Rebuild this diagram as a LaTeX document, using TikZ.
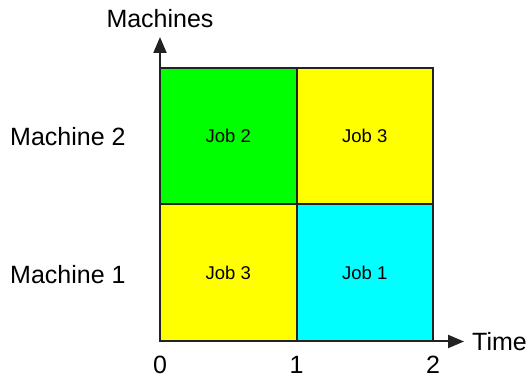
\documentclass[tikz,border=0pt]{standalone}
\usepackage{fontspec}
\setmainfont{Liberation Sans}
\usetikzlibrary{arrows.meta}
\definecolor{jobgreen}{RGB}{0,255,0}
\definecolor{jobyellow}{RGB}{255,255,0}
\definecolor{jobcyan}{RGB}{0,255,255}
\definecolor{edge}{RGB}{34,34,34}
\tikzset{
  cell/.style={draw=edge, line width=2pt, minimum width=136.5pt, minimum height=136.5pt,
    inner sep=0pt, font=\fontsize{18.5}{22}\selectfont},
  axis/.style={draw=edge, line width=2pt, -{Triangle[length=16pt,width=13pt]}},
  biglabel/.style={font=\fontsize{25}{30}\selectfont, inner sep=0pt}
}
\begin{document}
\begin{tikzpicture}[x=1pt,y=-1pt]
  \useasboundingbox (0,0) rectangle (528,379);
  % schedule cells
  \node[cell, fill=jobyellow] (j3a) at (228.25,272.75) {Job 3};
  \node[cell, fill=jobcyan]   (j1)  at (364.75,272.75) {Job 1};
  \node[cell, fill=jobgreen]  (j2)  at (228.25,136.25) {Job 2};
  \node[cell, fill=jobyellow] (j3b) at (364.75,136.25) {Job 3};
  % axes
  \coordinate (o) at (160,341.5);
  \coordinate (ytip) at (160,37);
  \coordinate (xtip) at (464,341.5);
  \draw[axis] (o) -- (ytip);
  \draw[axis] (o) -- (xtip);
  % axis labels
  \node[biglabel] (ylab) at (160,19) {Machines};
  \node[biglabel, anchor=west] (xlab) at (472,341.5) {Time};
  \node[biglabel, anchor=west] (m2) at (10,137) {Machine 2};
  \node[biglabel, anchor=west] (m1) at (10,275) {Machine 1};
  \node[biglabel, anchor=base] (t0) at (160,373.5) {0};
  \node[biglabel, anchor=base] (t1) at (296.5,373.5) {1};
  \node[biglabel, anchor=base] (t2) at (433,373.5) {2};
\end{tikzpicture}
\end{document}
